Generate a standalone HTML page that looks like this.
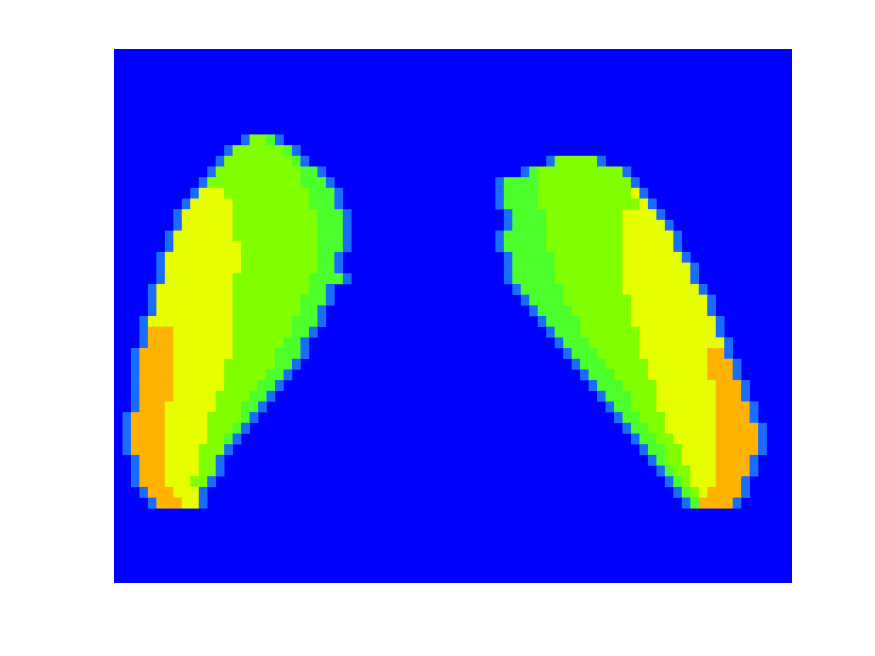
<!DOCTYPE html>
<html><head><meta charset="utf-8"><style>
html,body{margin:0;padding:0;background:#fff;width:875px;height:656px;overflow:hidden}
svg{display:block}
</style></head><body>
<svg id="chart" width="875" height="656" xmlns="http://www.w3.org/2000/svg">
<rect x="114" y="49" width="678" height="534" fill="#0000ff"/>
<g id="cells"></g>
</svg>
<script>
// Grid: 80 columns x 50 rows
const nCols = 80;
const nRows = 50;
// Left lung: per-row boundaries (column units)
const leftRows      = [8,9,10,11,12,13,14,15,16,17,18,19,20,21,22,23,24,25,26,27,28,29,30,31,32,33,34,35,36,37,38,39,40,41,42];
const leftStart     = [15,13,12,11,10,9,8,7,7,6,6,5,5,5,4,4,4,3,3,3,2,2,2,2,2,2,1,1,1,1,2,2,2,3,4];
const leftOrangeEnd = [15,13,12,11,10,9,8,7,7,6,6,5,5,5,4,4,4,3,7,7,7,7,7,7,7,6,6,6,6,6,6,6,6,7,8];
const leftYellowEnd = [15,13,12,11,10,13,14,14,14,14,15,15,15,14,14,14,14,14,14,14,14,13,13,13,12,12,11,11,11,10,10,10,9,10,10];
const leftGreenEnd  = [18,20,21,22,22,23,23,24,24,24,24,24,24,23,23,22,22,21,21,20,19,19,18,17,16,15,15,14,13,13,12,12,11,10,10];
const leftFringeEnd = [19,21,22,24,25,26,26,27,27,27,27,26,26,27,25,25,24,24,23,22,22,21,20,19,18,17,16,15,14,13,12,12,11,10,10];
// Right lung: per-row boundaries (column units)
const rightRows        = [10,11,12,13,14,15,16,17,18,19,20,21,22,23,24,25,26,27,28,29,30,31,32,33,34,35,36,37,38,39,40,41,42];
const rightStart       = [52,49,46,46,46,47,47,46,46,47,47,47,48,49,50,51,52,53,54,55,56,57,58,59,60,61,62,63,64,65,66,67,68];
const rightGreenStart  = [52,50,50,50,50,51,51,51,51,52,52,52,53,53,54,55,55,56,57,58,59,60,61,61,62,63,64,65,65,66,67,68,69];
const rightYellowStart = [57,60,61,61,62,60,60,60,60,60,60,60,60,61,61,61,62,62,62,63,63,64,64,64,65,65,66,67,67,68,68,69,69];
const rightOrangeStart = [57,60,61,62,63,64,65,66,66,67,68,68,69,70,70,71,71,72,70,70,70,71,71,71,71,71,71,71,71,71,71,70,69];
const rightEnd         = [57,60,61,62,63,64,65,66,66,67,68,68,69,70,70,71,71,72,72,73,73,74,74,75,75,76,76,76,75,75,74,74,73];

const colors = {edge:'#1a6cff', fringe:'#4cff2a', green:'#80ff00', yellow:'#e6ff00', orange:'#ffb300'};
const X0 = 114, Y0 = 49, W = 678, H = 534;
function xs(c){ return X0 + c * W / nCols; }
function ys(r){ return Y0 + r * H / nRows; }
const g = document.getElementById('cells');
function cell(c0, c1, r, color, name){
  if (c1 <= c0) return;
  const el = document.createElementNS('http://www.w3.org/2000/svg','rect');
  el.setAttribute('x', xs(c0));
  el.setAttribute('y', ys(r));
  el.setAttribute('width', xs(c1) - xs(c0) + 0.3);
  el.setAttribute('height', ys(r+1) - ys(r) + 0.3);
  el.setAttribute('fill', color);
  
  
  g.appendChild(el);
}
leftRows.forEach((r, i) => {
  const s = leftStart[i];
  let a = s + 1;
  cell(s, s + 1, r, colors.edge, 'left-lung-edge-cell');
  const o = Math.max(a, leftOrangeEnd[i]); cell(a, o, r, colors.orange, 'left-lung-orange-cell'); a = o;
  const y = Math.max(a, leftYellowEnd[i]); cell(a, y, r, colors.yellow, 'left-lung-yellow-cell'); a = y;
  const gr = Math.max(a, leftGreenEnd[i]); cell(a, gr, r, colors.green, 'left-lung-green-cell'); a = gr;
  const f = Math.max(a, leftFringeEnd[i]); cell(a, f, r, colors.fringe, 'left-lung-fringe-cell'); a = f;
  cell(a, a + 1, r, colors.edge, 'left-lung-edge-cell');
});
rightRows.forEach((r, i) => {
  const s = rightStart[i];
  cell(s - 1, s, r, colors.edge, 'right-lung-edge-cell');
  let a = s;
  const gS = Math.max(a, rightGreenStart[i]); cell(a, gS, r, colors.fringe, 'right-lung-fringe-cell'); a = gS;
  const yS = Math.max(a, rightYellowStart[i]); cell(a, yS, r, colors.green, 'right-lung-green-cell'); a = yS;
  const oS = Math.max(a, rightOrangeStart[i]); cell(a, oS, r, colors.yellow, 'right-lung-yellow-cell'); a = oS;
  const e = Math.max(a, rightEnd[i]); cell(a, e, r, colors.orange, 'right-lung-orange-cell'); a = e;
  cell(a, a + 1, r, colors.edge, 'right-lung-edge-cell');
});
</script>
</body></html>
